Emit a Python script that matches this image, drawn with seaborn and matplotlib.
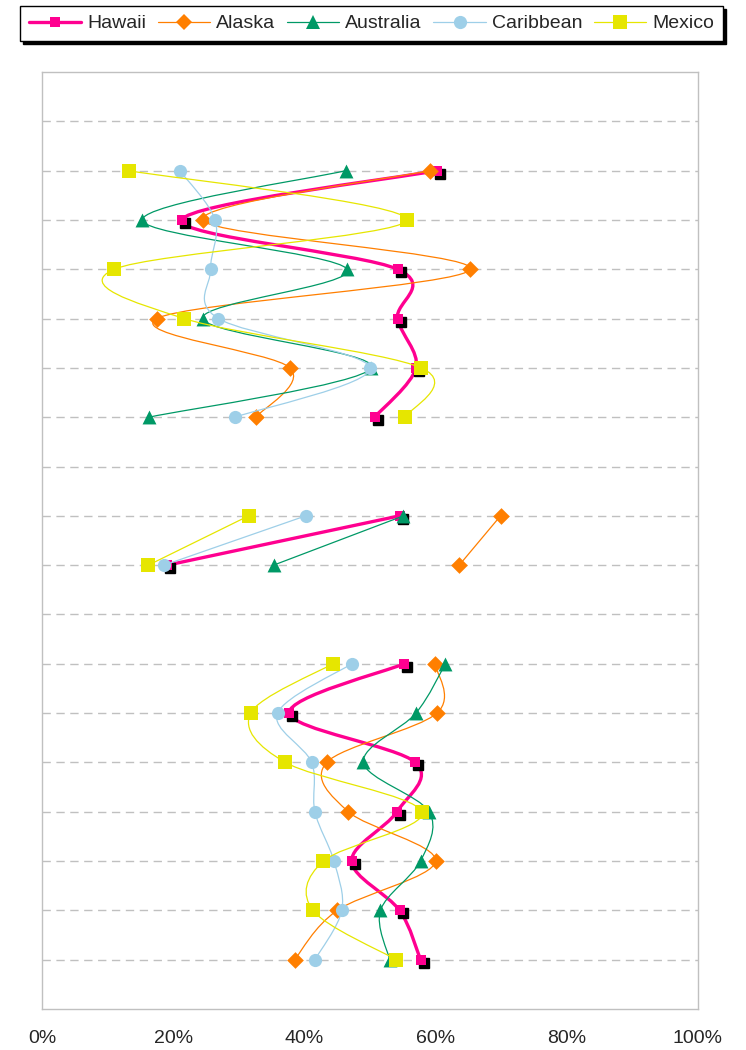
import numpy as np
import pandas as pd
import matplotlib
matplotlib.use("Agg")
import matplotlib.pyplot as plt
import seaborn as sns
from matplotlib.path import Path
from matplotlib.patches import PathPatch
from matplotlib.lines import Line2D
from matplotlib.transforms import offset_copy

# ---- data (percent), rows 1..18 (nan = empty row) ----
rows = list(range(1, 19))
hawaii = [np.nan, 60.2, 21.3, 54.2, 54.2, 57.0, 50.7, np.nan, 54.5, 19.1, np.nan,
          55.2, 37.7, 56.9, 54.1, 47.2, 54.5, 57.7]
alaska = [np.nan, 59.1, 24.5, 65.3, 17.5, 37.8, 32.6, np.nan, 69.9, 63.6, np.nan,
          59.9, 60.2, 43.4, 46.7, 60.0, 45.0, 38.5]
australia = [np.nan, 46.3, 15.3, 46.5, 24.5, 50.2, 16.3, np.nan, 55.1, 35.3, np.nan,
             61.5, 57.0, 49.0, 59.0, 57.7, 51.6, 53.0]
caribbean = [np.nan, 21.0, 26.4, 25.7, 26.9, 50.0, 29.4, np.nan, 40.2, 18.6, np.nan,
             47.2, 35.9, 41.1, 41.6, 44.5, 45.7, 41.6]
mexico = [np.nan, 13.2, 55.6, 11.0, 21.7, 57.8, 55.4, np.nan, 31.5, 16.2, np.nan,
          44.3, 31.8, 37.1, 57.9, 42.9, 41.3, 54.0]
x_ticks = [0, 20, 40, 60, 80, 100]
x_labels = ["0%", "20%", "40%", "60%", "80%", "100%"]

series = ["Hawaii", "Alaska", "Australia", "Caribbean", "Mexico"]
values = [hawaii, alaska, australia, caribbean, mexico]
colors = ["#FF0090", "#FF7F00", "#009966", "#9ECFE8", "#E6E600"]
markers = ["s", "D", "^", "o", "s"]
msizes = [7, 8.5, 10, 9.5, 9.5]
lwidths = [2.4, 0.9, 0.9, 0.9, 0.9]

sns.set_style("white")
plt.rcParams["font.family"] = ["Liberation Sans", "DejaVu Sans"]

fig = plt.figure(figsize=(7.46, 10.5), dpi=100)
ax = fig.add_axes([42 / 746, 1 - 1009 / 1050, 656 / 746, 937 / 1050])


def smooth_path(xs, ys):
    pts = np.column_stack([xs, ys])
    n = len(pts)
    verts = [pts[0]]
    codes = [Path.MOVETO]
    for i in range(n - 1):
        p0 = pts[i - 1] if i > 0 else pts[i]
        p1 = pts[i]
        p2 = pts[i + 1]
        p3 = pts[i + 2] if i + 2 < n else pts[i + 1]
        c1 = p1 + (p2 - p0) / 6.0
        c2 = p2 - (p3 - p1) / 6.0
        verts += [c1, c2, p2]
        codes += [Path.CURVE4] * 3
    return Path(verts, codes)


for k, (name, vals) in enumerate(zip(series, values)):
    v = np.array(vals, dtype=float)
    r = np.array(rows, dtype=float)
    runs, cur = [], []
    for xv, yv in zip(v, r):
        if np.isnan(xv):
            if cur:
                runs.append(cur)
            cur = []
        else:
            cur.append((xv, yv))
    if cur:
        runs.append(cur)
    z = 3 + k
    for run in runs:
        xs = [p[0] for p in run]
        ys = [p[1] for p in run]
        if len(xs) > 1:
            patch = PathPatch(smooth_path(xs, ys), facecolor="none",
                              edgecolor=colors[k], lw=lwidths[k], zorder=z,
                              capstyle="round", joinstyle="round")
            ax.add_patch(patch)
    df = pd.DataFrame({"x": v, "row": r}).dropna()
    if name == "Hawaii":
        shadow_tr = offset_copy(ax.transData, fig=fig, x=3, y=-3, units="dots")
        ax.plot(df["x"], df["row"], ls="none", marker="s", ms=msizes[k],
                color="black", transform=shadow_tr, zorder=z)
    sns.scatterplot(data=df, x="x", y="row", marker=markers[k], color=colors[k],
                    s=msizes[k] ** 2, linewidth=0, ax=ax, zorder=z + 0.5,
                    legend=False)

ax.set_xlim(0, 100)
ax.set_ylim(19, 0)
ax.set_yticks([])
for yy in range(1, 19):
    ax.axhline(yy, color="#C0C0C0", lw=1, ls=(0, (6, 4)), zorder=1)
ax.set_xticks(x_ticks)
ax.set_xticklabels(x_labels, fontsize=14)
ax.tick_params(axis="x", length=0, pad=15)
ax.set_xlabel("")
ax.set_ylabel("")
for sp in ax.spines.values():
    sp.set_color("#C0C0C0")
    sp.set_linewidth(1)

handles = [Line2D([], [], color=colors[k], lw=lwidths[k], marker=markers[k],
                  ms=msizes[k], markeredgewidth=0) for k in range(5)]
leg = fig.legend(handles, series, loc="upper left", ncol=5,
                 bbox_to_anchor=(20 / 746, 1 - 6 / 1050),
                 borderaxespad=0, fontsize=14, handlelength=2.7, handletextpad=0.3,
                 columnspacing=0.6, frameon=True, fancybox=False,
                 shadow={"color": "black", "alpha": 1}, borderpad=0.45)
leg.get_frame().set_edgecolor("black")
leg.get_frame().set_linewidth(1)

fig.savefig("out.png", dpi=100)
